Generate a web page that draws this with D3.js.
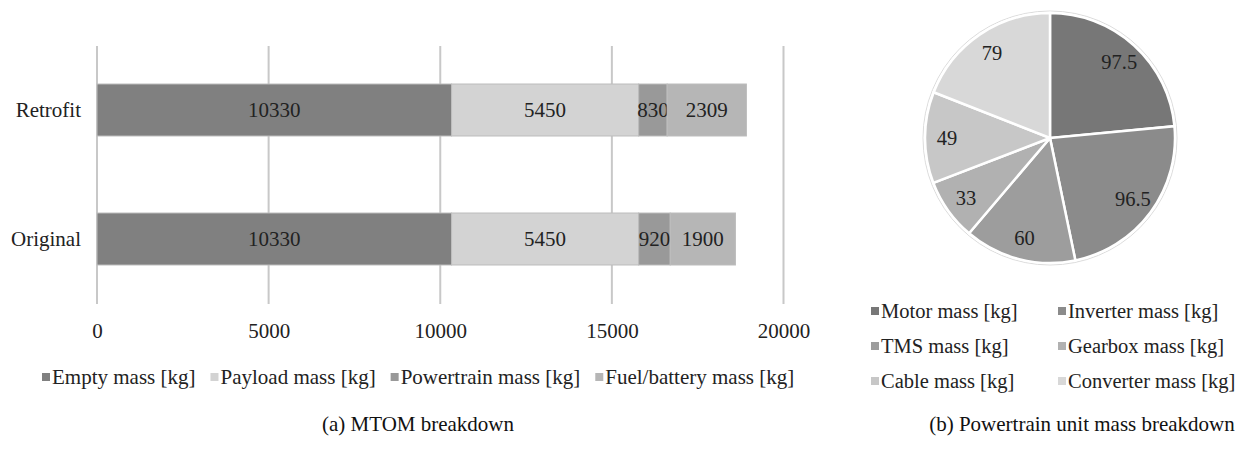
<!DOCTYPE html>
<html>
<head>
<meta charset="utf-8">
<script src="https://cdn.jsdelivr.net/npm/d3@7"></script>
<style>
  html, body { margin: 0; padding: 0; background: #fff; }
  svg { display: block; }
</style>
</head>
<body>
<svg id="chart" width="1244" height="449"></svg>
<script>
// MTOM breakdown (stacked bars)
const aircraft = ["Retrofit", "Original"];
const massSeries = ["Empty mass [kg]", "Payload mass [kg]", "Powertrain mass [kg]", "Fuel/battery mass [kg]"];
const emptyMass = [10330, 10330];
const payloadMass = [5450, 5450];
const powertrainMass = [830, 920];
const fuelBatteryMass = [2309, 1900];
const massTicks = [0, 5000, 10000, 15000, 20000];

// Powertrain unit mass breakdown (pie)
const units = ["Motor mass [kg]", "Inverter mass [kg]", "TMS mass [kg]", "Gearbox mass [kg]", "Cable mass [kg]", "Converter mass [kg]"];
const unitMass = [97.5, 96.5, 60, 33, 49, 79];

const barColors = ["#808080", "#d3d3d3", "#999999", "#b6b6b6"];
const pieColors = ["#777777", "#8b8b8b", "#9d9d9d", "#b1b1b1", "#c7c7c7", "#d8d8d8"];
const FS = 21;      // bar chart and captions
const FS_PIE = 20.5;
const FONT = '"Liberation Serif", "Times New Roman", serif';

const svg = d3.select("#chart");

// ---------- bar chart ----------
const x = d3.scaleLinear().domain([0, 20000]).range([97, 783.5]);
const y = d3.scaleBand().domain(aircraft).range([45.5, 303.5])
  .paddingInner(0.597).paddingOuter(0.2985);

// vertical gridlines
svg.append("g").selectAll("line").data(massTicks).join("line")
  .attr("x1", d => x(d)).attr("x2", d => x(d))
  .attr("y1", 46).attr("y2", 304)
  .attr("stroke", "#c8c8c8").attr("stroke-width", 2);

// tick labels
const xAxis = svg.append("g").attr("class", "bar-text").attr("transform", "translate(0,331)")
  .call(d3.axisBottom(x).tickValues(massTicks).tickFormat(d3.format("d")).tickSize(0));
xAxis.select(".domain").remove();
xAxis.selectAll("text").attr("fill", "#222")
  .attr("dy", "0.35em").attr("y", 0);

// category labels
const yAxis = svg.append("g").attr("class", "bar-text").attr("transform", "translate(81,0)")
  .call(d3.axisLeft(y).tickSize(0));
yAxis.select(".domain").remove();
yAxis.selectAll("text").attr("fill", "#222").attr("x", 0);

const rows = aircraft.map((a, i) => ({
  aircraft: a,
  [massSeries[0]]: emptyMass[i],
  [massSeries[1]]: payloadMass[i],
  [massSeries[2]]: powertrainMass[i],
  [massSeries[3]]: fuelBatteryMass[i]
}));
const stacked = d3.stack().keys(massSeries)(rows);

const layers = svg.append("g").attr("class", "bar-text").selectAll("g").data(stacked).join("g")
  .attr("fill", (d, i) => barColors[i]);
layers.selectAll("rect").data(d => d).join("rect")
  .attr("x", d => x(d[0]))
  .attr("y", d => y(d.data.aircraft))
  .attr("width", d => x(d[1]) - x(d[0]))
  .attr("height", y.bandwidth())
  .attr("stroke", "#bdbdbd").attr("stroke-width", 1);

layers.selectAll("text").data(d => d).join("text")
  .attr("x", d => (x(d[0]) + x(d[1])) / 2)
  .attr("y", d => y(d.data.aircraft) + y.bandwidth() / 2)
  .attr("dy", "0.35em").attr("text-anchor", "middle")
  .style("fill", "#222")
  .text(d => d[1] - d[0]);

// bar legend (laid out left to right from measured text widths)
const barLegend = svg.append("g").attr("class", "bar-text").attr("fill", "#222");
let lx = 42;
massSeries.forEach((s, i) => {
  const g = barLegend.append("g").attr("transform", `translate(${lx},377)`);
  g.append("rect").attr("x", 0).attr("y", -4).attr("width", 8).attr("height", 8)
    .attr("fill", barColors[i]);
  const t = g.append("text").attr("x", 10).attr("dy", "0.35em")
    .style("font-family", FONT).style("font-size", FS + "px").text(s);
  lx += 10 + t.node().getComputedTextLength() + 15;
});

svg.append("text").attr("class", "bar-text").attr("x", 418).attr("y", 424).attr("dy", "0.35em")
  .attr("text-anchor", "middle").attr("fill", "#111")
  .text("(a) MTOM breakdown");

// ---------- pie chart ----------
const cx = 1050, cy = 138, r = 125;
const pieG = svg.append("g").attr("class", "pie-text").attr("transform", `translate(${cx},${cy})`);
const pie = d3.pie().sort(null).value(d => d)(unitMass);
const arc = d3.arc().innerRadius(0).outerRadius(r);
const labelArc = d3.arc().innerRadius(103).outerRadius(103);

pieG.append("circle").attr("r", r + 2).attr("fill", "none")
  .attr("stroke", "#dcdcdc").attr("stroke-width", 1);
pieG.selectAll("path").data(pie).join("path")
  .attr("d", arc)
  .attr("fill", (d, i) => pieColors[i])
  .attr("stroke", "#fff").attr("stroke-width", 2.5);
pieG.selectAll("text").data(pie).join("text")
  .attr("transform", d => `translate(${labelArc.centroid(d)})`)
  .attr("dy", "0.35em").attr("text-anchor", "middle")
  .attr("fill", "#222")
  .text(d => d.data);

// pie legend
const pieLegend = svg.append("g").attr("class", "pie-text").attr("fill", "#222");
units.forEach((u, i) => {
  const col = i % 2, row = Math.floor(i / 2);
  const g = pieLegend.append("g")
    .attr("transform", `translate(${col ? 1058 : 871},${311 + row * 35})`);
  g.append("rect").attr("x", 0).attr("y", -4).attr("width", 8).attr("height", 8)
    .attr("fill", pieColors[i]);
  g.append("text").attr("x", 10).attr("dy", "0.35em").text(u);
});

svg.append("text").attr("class", "bar-text").attr("x", 1082).attr("y", 424).attr("dy", "0.35em")
  .attr("text-anchor", "middle").attr("fill", "#111")
  .text("(b) Powertrain unit mass breakdown");

// serif face throughout; pie texts slightly smaller
svg.selectAll("text").style("font-family", FONT).style("font-size", FS + "px");
svg.selectAll(".pie-text text").style("font-size", FS_PIE + "px");
</script>
</body>
</html>
